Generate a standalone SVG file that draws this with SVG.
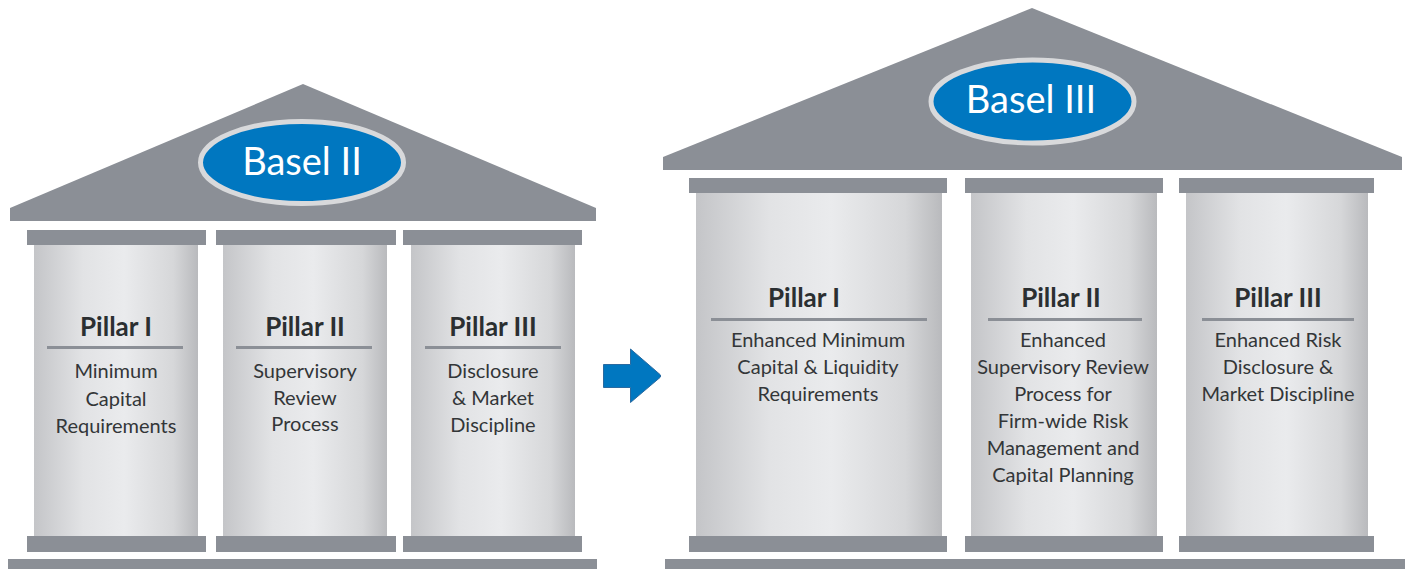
<svg xmlns="http://www.w3.org/2000/svg" width="1407" height="569" viewBox="0 0 1407 569">
<defs>
<linearGradient id="shaft" x1="0" y1="0" x2="1" y2="0">
<stop offset="0" stop-color="#c4c5c8"/>
<stop offset="0.3" stop-color="#e2e3e5"/>
<stop offset="0.55" stop-color="#eaebed"/>
<stop offset="0.85" stop-color="#d6d7d9"/>
<stop offset="1" stop-color="#b9babd"/>
</linearGradient>
<style>
.roof{fill:#8b8f96}
.bar{fill:#8b8f96}
.shaft{fill:url(#shaft)}
.oval{fill:#0077c0;stroke:#d8d9db;stroke-width:5}
.title{font-family:Lato,"Open Sans",sans-serif;font-size:38px;fill:#ffffff;text-anchor:middle}
.head{font-family:Lato,"Open Sans",sans-serif;font-weight:bold;font-size:26px;fill:#2b2f31;text-anchor:middle}
.body{font-family:Lato,"Open Sans",sans-serif;font-size:20px;fill:#333638;text-anchor:middle}
.rule{stroke:#8b8f96;stroke-width:3}
</style>
</defs>

<g id="basel2">
<g id="basel2-roof">
<polygon class="roof" points="10,208 303,84 596,208 596,221 10,221"/>
<ellipse class="oval" cx="302" cy="162.5" rx="101.5" ry="41"/>
<text class="title" x="302" y="175">Basel II</text>
</g>
<rect class="bar" x="8" y="559" width="589" height="10"/>
<g id="b2-pillar1">
<rect class="bar" x="27" y="230" width="179" height="15"/>
<rect class="shaft" x="34" y="245" width="164" height="292"/>
<rect class="bar" x="27" y="536" width="179" height="16"/>
<text class="head" x="116" y="336">Pillar I</text>
<line class="rule" x1="47" y1="347.5" x2="183" y2="347.5"/>
<text class="body" x="116" y="378">Minimum</text>
<text class="body" x="116" y="406">Capital</text>
<text class="body" x="116" y="433">Requirements</text>
</g>
<g id="b2-pillar2">
<rect class="bar" x="216" y="230" width="180" height="15"/>
<rect class="shaft" x="223" y="245" width="164" height="292"/>
<rect class="bar" x="216" y="536" width="180" height="16"/>
<text class="head" x="305" y="336">Pillar II</text>
<line class="rule" x1="236" y1="347.5" x2="372" y2="347.5"/>
<text class="body" x="305" y="378">Supervisory</text>
<text class="body" x="305" y="405">Review</text>
<text class="body" x="305" y="431">Process</text>
</g>
<g id="b2-pillar3">
<rect class="bar" x="403" y="230" width="179" height="15"/>
<rect class="shaft" x="411" y="245" width="164" height="292"/>
<rect class="bar" x="403" y="536" width="179" height="16"/>
<text class="head" x="493" y="336">Pillar III</text>
<line class="rule" x1="425" y1="347.5" x2="561" y2="347.5"/>
<text class="body" x="493" y="378">Disclosure</text>
<text class="body" x="493" y="405">&amp; Market</text>
<text class="body" x="493" y="432">Discipline</text>
</g>
</g>

<g id="connectors">
<path id="arrow" d="M603.5,364.5 H630.5 V349 L660,374.5 Q661.5,376 660,377.5 L630.5,402.5 V387.5 H603.5 Z" fill="#0077c0" stroke="#2a6aa0" stroke-width="1"/>
</g>

<g id="basel3">
<g id="basel3-roof">
<polygon class="roof" points="663,157 1032,8 1402,157 1402,170 663,170"/>
<ellipse class="oval" cx="1032.5" cy="101.5" rx="101.5" ry="41.5"/>
<text class="title" x="1031" y="113">Basel III</text>
</g>
<rect class="bar" x="665" y="559" width="740" height="10"/>
<g id="b3-pillar1">
<rect class="bar" x="689" y="178" width="258" height="15"/>
<rect class="shaft" x="696" y="193" width="246" height="344"/>
<rect class="bar" x="689" y="536" width="258" height="16"/>
<text class="head" x="804" y="307">Pillar I</text>
<line class="rule" x1="711" y1="319.5" x2="927" y2="319.5"/>
<text class="body" x="818" y="347">Enhanced Minimum</text>
<text class="body" x="818" y="374">Capital &amp; Liquidity</text>
<text class="body" x="818" y="401">Requirements</text>
</g>
<g id="b3-pillar2">
<rect class="bar" x="965" y="178" width="198" height="15"/>
<rect class="shaft" x="971" y="193" width="186" height="344"/>
<rect class="bar" x="965" y="536" width="198" height="16"/>
<text class="head" x="1061" y="307">Pillar II</text>
<line class="rule" x1="988" y1="319.5" x2="1142" y2="319.5"/>
<text class="body" x="1063" y="347">Enhanced</text>
<text class="body" x="1063" y="374">Supervisory Review</text>
<text class="body" x="1063" y="401">Process for</text>
<text class="body" x="1063" y="428">Firm-wide Risk</text>
<text class="body" x="1063" y="455">Management and</text>
<text class="body" x="1063" y="482">Capital Planning</text>
</g>
<g id="b3-pillar3">
<rect class="bar" x="1179" y="178" width="195" height="15"/>
<rect class="shaft" x="1186" y="193" width="182" height="344"/>
<rect class="bar" x="1179" y="536" width="195" height="16"/>
<text class="head" x="1278" y="307">Pillar III</text>
<line class="rule" x1="1202" y1="319.5" x2="1354" y2="319.5"/>
<text class="body" x="1278" y="347">Enhanced Risk</text>
<text class="body" x="1278" y="374">Disclosure &amp;</text>
<text class="body" x="1278" y="401">Market Discipline</text>
</g>
</g>
</svg>
